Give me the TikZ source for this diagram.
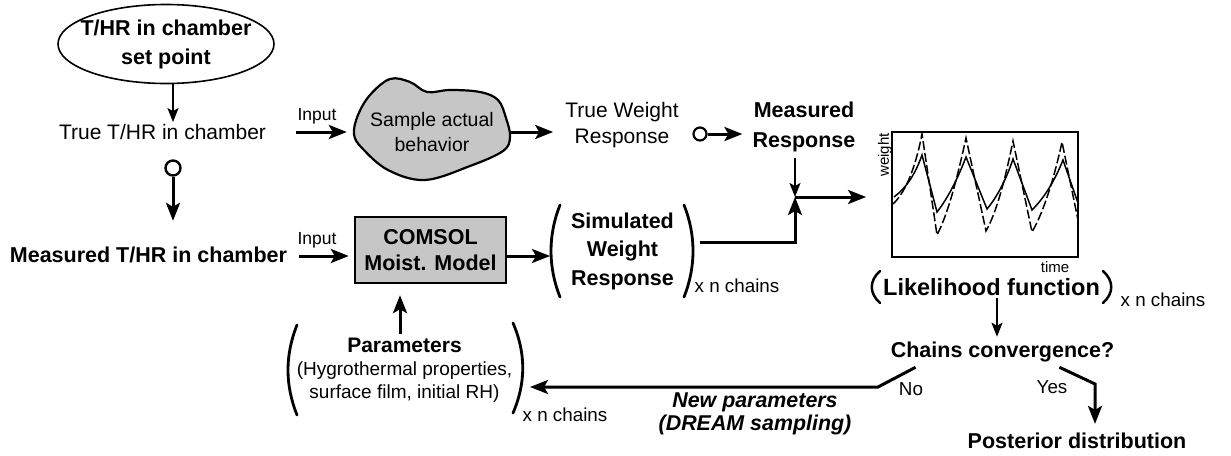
\documentclass[tikz,border=0pt]{standalone}
\usepackage{fontspec}
\setmainfont{Liberation Sans}
\usetikzlibrary{arrows.meta,shapes.geometric,calc}
\definecolor{boxgray}{RGB}{198,198,198}
\begin{document}
\begin{tikzpicture}[x=1pt,y=-1pt,
  lbl/.style={inner sep=0pt, align=center},
  tb/.style={lbl, font=\fontsize{21.5}{28}\selectfont\bfseries},
  tr/.style={lbl, font=\fontsize{21}{26}\selectfont},
  small/.style={lbl, font=\fontsize{17.5}{20}\selectfont},
  chains/.style={lbl, font=\fontsize{18.8}{22}\selectfont},
  axlbl/.style={lbl, font=\fontsize{15}{17}\selectfont},
  arr/.style={line width=3, -{Stealth[length=18,width=14,inset=4]}},
  thinarr/.style={line width=2.1, -{Stealth[length=14,width=11,inset=3]}},
  paren/.style={line width=2.8, line cap=round},
  curve/.style={line width=1.5},
  dcurve/.style={line width=1.5, dash pattern=on 9pt off 3pt},
]
\useasboundingbox (0,0) rectangle (1231,455);

% ---------- top-left: set point and chamber conditions ----------
\node[ellipse, draw, line width=1.6, minimum width=216, minimum height=79,
      tb, font=\fontsize{21.5}{29}\selectfont\bfseries,
      inner xsep=-30pt, inner ysep=-12pt] (set) at (166,44) {T/HR in chamber\\set point};
\node[tr] (true) at (162.5,132) {True T/HR in chamber};
\node[circle, draw, line width=2.4, minimum size=15, inner sep=0pt] (c1) at (173,168) {};
\node[tb] (meas) at (148.5,255) {Measured T/HR in chamber};

\draw[thinarr, shorten >=2pt] (set.south -| c1) -- (true.north -| c1);
\draw[arr, shorten >=26pt] (c1.south) -- (meas.north -| c1);

% ---------- actual sample (blob) ----------
\draw[line width=2.2, fill=boxgray] plot[smooth cycle, tension=0.6] coordinates {
  (354,134) (358,115) (370,95) (390,79) (410,82) (427,92) (450,90) (480,92)
  (498,100) (506,118) (510,137) (503,151) (470,166) (425,180) (388,170) (362,148)};
\node[lbl, font=\fontsize{19.5}{25}\selectfont, minimum width=156, minimum height=100]
  (blob) at (432,132) {Sample actual\\behavior};
\node[small] (in1) at (317,116) {Input};
\draw[arr] ($(true.east)+(30,0)$) -- ($(blob.west)+(-7,0)$);

\node[tr] (tw) at (622,125) {True Weight\\Response};
\draw[arr, shorten >=12pt] (blob.east) -- (blob.east -| tw.west);

\node[circle, draw, line width=2.2, minimum size=13, inner sep=0pt] (c2) at (700,134) {};
\node[tb, font=\fontsize{21.5}{30}\selectfont\bfseries] (mr) at (804,127) {Measured\\Response};
\draw[arr, shorten >=10pt] (c2.east) -- (c2.east -| mr.west);

% ---------- model branch ----------
\node[draw, line width=2.4, fill=boxgray, minimum width=151, minimum height=66,
      tb, font=\fontsize{21.5}{26}\selectfont\bfseries] (comsol) at (430.5,250) {COMSOL\\Moist. Model};
\node[small] (in2) at (317,240) {Input};
\draw[arr, shorten >=5pt] ($(meas.east)+(12,1)$) -- ($(meas.east -| comsol.west)+(0,1)$);

\node[tb, font=\fontsize{21.5}{28.5}\selectfont\bfseries] (sim) at (622.5,251) {Simulated\\Weight\\Response};
\draw[paren] (560,205) .. controls (548,235) and (548,267) .. (560,297);
\draw[paren] (684,205) .. controls (696,235) and (696,267) .. (684,297);
\node[chains] (xn1) at (737,286) {x n chains};
\coordinate (simL) at (550,256);
\coordinate (simR) at (700,242);
\draw[arr] (comsol.east |- simL) -- (simL);

% junction of measured and simulated responses
\coordinate (J) at (795,197);
\draw[thinarr, shorten <=6pt] (mr.south -| J) -- (J);
\draw[arr] (simR) -| (J);

% ---------- likelihood plot ----------
\node[draw, line width=1.8, minimum width=186, minimum height=125, inner sep=0pt] (plot) at (985,194.5) {};
\draw[arr, shorten >=25pt] (J) -- (J -| plot.west);
\begin{scope}
\clip (plot.south west) rectangle (plot.north east);
\draw[curve] (894,197) .. controls (906,188) and (915,175) .. (922,155) -- (937,212)
  .. controls (948,198) and (958,178) .. (966,157) -- (987,209)
  .. controls (997,197) and (1006,180) .. (1013,159) -- (1032,210)
  .. controls (1045,197) and (1055,180) .. (1063,160) -- (1078,203);
\draw[dcurve] (893,204) .. controls (908,190) and (917,160) .. (922,134) -- (937,235)
  .. controls (950,210) and (960,165) .. (966,138) -- (986,231)
  .. controls (998,210) and (1007,170) .. (1013,141) -- (1032,232)
  .. controls (1045,210) and (1056,170) .. (1062,142) -- (1078,220);
\end{scope}
\node[axlbl, rotate=90, anchor=east] (wlab) at (885,133) {weight};
\node[axlbl] (tlab) at (1055,267) {time};

\node[lbl, font=\fontsize{23.5}{28}\selectfont\bfseries] (lik) at (991.5,287) {Likelihood function};
\draw[paren, line width=2.5] (880,271) .. controls (869,281) and (869,293) .. (880,303);
\draw[paren, line width=2.5] (1103,271) .. controls (1114,281) and (1114,293) .. (1103,303);
\node[chains] (xn2) at (1163,300) {x n chains};

\node[tb] (conv) at (1002.5,352) {Chains convergence?};
\draw[thinarr, shorten <=2pt, shorten >=5pt] (lik.south -| 997,0) -- (conv.north -| 997,0);

% ---------- decision branches ----------
\coordinate (nobend) at (878,387);
\coordinate (noend) at (530,387);
\coordinate (yesbend) at (1095,384);
\node[chains] (no) at (911,389) {No};
\node[chains] (yes) at (1052,387) {Yes};
\node[tb] (post) at (1077,441) {Posterior distribution};
\draw[arr] ($(conv.south west)+(25,5)$) -- (nobend) -- (noend);
\draw[arr, shorten >=9pt] ($(conv.south east)+(-55,5)$) -- (yesbend) -- (yesbend |- post.north);

\node[lbl, font=\fontsize{21.4}{23}\selectfont\bfseries\itshape] (np) at (755,414) {New parameters\\(DREAM sampling)};

% ---------- parameters ----------
\node[lbl, font=\fontsize{19}{23}\selectfont] (par) at (404.5,370)
  {{\fontsize{21}{23}\selectfont\bfseries Parameters}\\(Hygrothermal properties,\\surface film, initial RH)};
\draw[paren] (297,325) .. controls (285,355) and (285,385) .. (297,415);
\draw[paren] (513,323) .. controls (526,353) and (526,383) .. (513,413);
\node[chains] (xn3) at (565,415) {x n chains};
\draw[arr, shorten >=11pt] ($(par.north)+(-4.5,-4)$) -- (comsol.south -| 400,0);

\end{tikzpicture}
\end{document}
